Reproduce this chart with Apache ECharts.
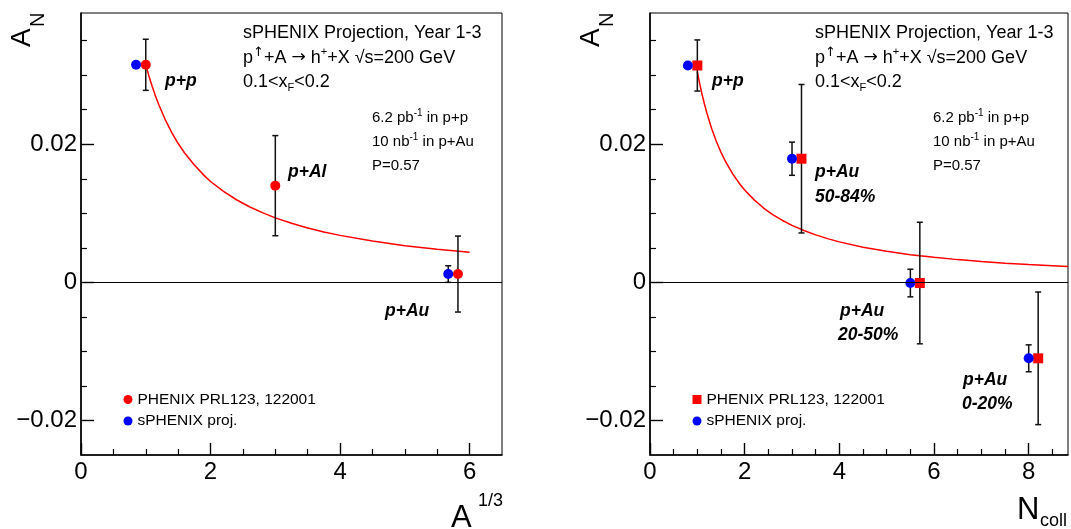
<!DOCTYPE html>
<html><head><meta charset="utf-8">
<script src="https://cdn.jsdelivr.net/npm/echarts@6/dist/echarts.min.js"></script>
<style>html,body{margin:0;padding:0;background:#fff}#c{width:1071px;height:529px}</style>
</head><body><div id="c"></div>
<script>
// ---------------- data ----------------
const seriesNames = ['PHENIX PRL123, 122001', 'sPHENIX proj.'];

// Left panel: x = A^(1/3)
const leftCategories = ['p+p', 'p+Al', 'p+Au'];
const leftPhenixX = [1.0, 3.0, 5.82];
const leftPhenixY = [0.0315, 0.0140, 0.0012];
const leftPhenixErr = [0.0037, 0.00725, 0.0055];
const leftSphenixX = [0.85, 5.67];
const leftSphenixY = [0.0315, 0.0012];
const leftSphenixErr = [0.0004, 0.0012];
const leftFitX = [1, 1.05, 1.1, 1.15, 1.2, 1.3, 1.4, 1.5, 1.6, 1.75, 1.9, 2, 2.2, 2.4, 2.6, 2.8, 3, 3.25, 3.5, 3.75, 4, 4.5, 5, 5.5, 6];
const leftFitY = [0.0315, 0.02985, 0.02835, 0.02699, 0.02575, 0.02357, 0.02171, 0.0201, 0.01873, 0.0170, 0.01549, 0.0146, 0.01317, 0.01196, 0.01095, 0.01009, 0.00934, 0.00855, 0.00788, 0.0073, 0.0068, 0.00597, 0.00531, 0.00478, 0.00434];

// Right panel: x = N_coll
const rightCategories = ['p+p', 'p+Au 50-84%', 'p+Au 20-50%', 'p+Au 0-20%'];
const rightPhenixX = [1.0, 3.2, 5.7, 8.2];
const rightPhenixY = [0.0314, 0.0179, -0.0001, -0.0110];
const rightPhenixErr = [0.0037, 0.01075, 0.0088, 0.0096];
const rightSphenixX = [0.8, 3.0, 5.5, 8.0];
const rightSphenixY = [0.0314, 0.0179, -0.0001, -0.0110];
const rightSphenixErr = [0.0004, 0.0024, 0.0020, 0.00195];
const rightFitX = [1, 1.05, 1.1, 1.15, 1.2, 1.3, 1.4, 1.5, 1.6, 1.75, 1.9, 2, 2.2, 2.4, 2.6, 2.8, 3, 3.25, 3.5, 3.75, 4, 4.5, 5, 5.5, 6, 6.5, 7, 7.5, 8, 8.5, 8.83];
const rightFitY = [0.0305, 0.02878, 0.0272, 0.02583, 0.02455, 0.02232, 0.02044, 0.01882, 0.01743, 0.01567, 0.01421, 0.01337, 0.01194, 0.01076, 0.00978, 0.00896, 0.00825, 0.0075, 0.00687, 0.00633, 0.00586, 0.00509, 0.00449, 0.00401, 0.00362, 0.00329, 0.00301, 0.00277, 0.00257, 0.00239, 0.00228];

// axis ticks
const yMajorTicks = [-0.02, 0, 0.02];
const yMinorTicks = [-0.015, -0.01, -0.005, 0.005, 0.01, 0.015, 0.025, 0.03, 0.035];
const leftXMajorTicks = [0, 2, 4, 6];
const leftXMinorTicks = [0.5, 1, 1.5, 2.5, 3, 3.5, 4.5, 5, 5.5];
const rightXMajorTicks = [0, 2, 4, 6, 8];
const rightXMinorTicks = [0.5, 1, 1.5, 2.5, 3, 3.5, 4.5, 5, 5.5, 6.5, 7, 7.5, 8.5];

// ---------------- chart ----------------
const FF = '"Liberation Sans", Arial, Helvetica, sans-serif';
const FA = '"DejaVu Sans", "Liberation Sans", sans-serif';
const chart = echarts.init(document.getElementById('c'), null, {renderer: 'canvas'});

const zip2 = (a, b) => a.map((v, i) => [v, b[i]]);
const zip3 = (a, b, c) => a.map((v, i) => [v, b[i], c[i]]);

function fmtY(v) {
  if (Math.abs(v) < 1e-9) return '0';
  return (v < 0 ? '\u2212' : '') + Math.abs(v).toFixed(2);
}

function renderErr(params, api) {
  const x = api.value(0), y = api.value(1), e = api.value(2);
  const t = api.coord([x, y + e]);
  const b = api.coord([x, y - e]);
  const cw = 3;
  const st = {stroke: '#111', lineWidth: 1.5};
  return {type: 'group', children: [
    {type: 'line', shape: {x1: t[0], y1: t[1], x2: b[0], y2: b[1]}, style: st},
    {type: 'line', shape: {x1: t[0] - cw, y1: t[1], x2: t[0] + cw, y2: t[1]}, style: st},
    {type: 'line', shape: {x1: b[0] - cw, y1: b[1], x2: b[0] + cw, y2: b[1]}, style: st}
  ]};
}

const grids = [
  {left: 81, top: 13, width: 421, height: 442, show: true, borderColor: '#000', borderWidth: 1, backgroundColor: 'transparent'},
  {left: 650, top: 13, width: 418, height: 442, show: true, borderColor: '#000', borderWidth: 1, backgroundColor: 'transparent'}
];

function xAxes(gi, max, majors, minors) {
  return [
    {gridIndex: gi, type: 'value', min: 0, max: max, position: 'bottom',
     axisLine: {show: true, onZero: false, lineStyle: {color: '#000', width: 1.6}},
     axisTick: {show: true, inside: true, length: 12, customValues: majors, lineStyle: {color: '#000', width: 1.4}},
     axisLabel: {show: true, customValues: majors, margin: 5, fontSize: 24, color: '#000', fontFamily: FF, formatter: v => String(v)},
     splitLine: {show: false}},
    {gridIndex: gi, type: 'value', min: 0, max: max, position: 'bottom',
     axisLine: {show: false, onZero: false},
     axisTick: {show: true, inside: true, length: 6, customValues: minors, lineStyle: {color: '#000', width: 1.2}},
     axisLabel: {show: false}, splitLine: {show: false}}
  ];
}
function yAxes(gi) {
  return [
    {gridIndex: gi, type: 'value', min: -0.025, max: 0.039, position: 'left',
     axisLine: {show: true, onZero: false, lineStyle: {color: '#000', width: 1.6}},
     axisTick: {show: true, inside: true, length: 13, customValues: yMajorTicks, lineStyle: {color: '#000', width: 1.4}},
     axisLabel: {show: true, customValues: yMajorTicks, margin: 4, fontSize: 24, color: '#000', fontFamily: FF, formatter: fmtY},
     splitLine: {show: false}},
    {gridIndex: gi, type: 'value', min: -0.025, max: 0.039, position: 'left', offset: 0,
     axisLine: {show: false, onZero: false},
     axisTick: {show: true, inside: true, length: 6, customValues: yMinorTicks, lineStyle: {color: '#000', width: 1.2}},
     axisLabel: {show: false}, splitLine: {show: false}}
  ];
}

function panelSeries(xi, yi, fitX, fitY, pX, pY, pE, sX, sY, sE, phenixSymbol, phenixSize) {
  return [
    {type: 'line', xAxisIndex: xi, yAxisIndex: yi, data: zip2(fitX, fitY), showSymbol: false, symbol: 'none',
     smooth: false, lineStyle: {color: '#ff0000', width: 1.5}, z: 1, silent: true,
     markLine: {silent: true, symbol: ['none', 'none'], label: {show: false},
       lineStyle: {color: '#000', width: 1, type: 'solid'}, data: [{yAxis: 0}], animation: false}},
    {type: 'custom', xAxisIndex: xi, yAxisIndex: yi, data: zip3(pX, pY, pE), renderItem: renderErr, encode: {x: 0, y: 1}, z: 2, clip: false, silent: true},
    {type: 'custom', xAxisIndex: xi, yAxisIndex: yi, data: zip3(sX, sY, sE), renderItem: renderErr, encode: {x: 0, y: 1}, z: 2, clip: false, silent: true},
    {type: 'scatter', name: seriesNames[0], xAxisIndex: xi, yAxisIndex: yi, data: zip2(pX, pY), symbol: phenixSymbol, symbolSize: phenixSize,
     itemStyle: {color: '#ff0000', opacity: 1}, z: 3},
    {type: 'scatter', name: seriesNames[1], xAxisIndex: xi, yAxisIndex: yi, data: zip2(sX, sY), symbol: 'circle', symbolSize: 10,
     itemStyle: {color: '#0000ff', opacity: 1}, z: 3}
  ];
}

// ---------- text helpers ----------
function richLine(x, y, text, size, supSize) {
  return {type: 'text', x: x, y: y, silent: true, style: {
    x: 0, y: 0, text: text, fill: '#000', align: 'left', verticalAlign: 'middle',
    textAlign: 'left', textVerticalAlign: 'middle',
    fontFamily: FF, fontSize: size,
    rich: {
      m: {fontFamily: FF, fontSize: size, lineHeight: Math.round(size * 1.25), fill: '#000'},
      a: {fontFamily: FA, fontSize: size * 0.95, lineHeight: Math.round(size * 1.25), fill: '#000'},
      ua: {fontFamily: FA, fontSize: supSize + 2, lineHeight: supSize + 2, verticalAlign: 'top', fill: '#000'},
      u: {fontFamily: FF, fontSize: supSize, lineHeight: supSize, verticalAlign: 'top', fill: '#000'},
      d: {fontFamily: FF, fontSize: supSize, lineHeight: supSize, verticalAlign: 'bottom', fill: '#000'}
    }
  }};
}
function plain(x, y, text, size, opts) {
  opts = opts || {};
  return {type: 'text', x: x, y: y, rotation: opts.rotation || 0, silent: true, style: {
    x: 0, y: 0, text: text, fill: '#000', align: opts.align || 'left', verticalAlign: 'middle',
    textAlign: opts.align || 'left', textVerticalAlign: 'middle',
    fontFamily: FF, fontSize: size, fontWeight: opts.bold ? 'bold' : 'normal', fontStyle: opts.italic ? 'italic' : 'normal'
  }};
}
function bi(x, y, t) { return plain(x, y, t, 17.5, {bold: true, italic: true}); }

function infoBlock(x0, xs) {
  return [
    richLine(x0, 33, '{m|sPHENIX Projection, Year 1-3}', 18, 11),
    richLine(x0, 58, '{m|p}{ua|\u2191}{m|+A }{a|\u2192}{m| h}{u|+}{m|+X \u221As=200 GeV}', 18, 11),
    richLine(x0, 82, '{m|0.1<x}{d|F}{m|<0.2}', 18, 11),
    richLine(xs, 118, '{m|6.2 pb}{u|-1}{m| in p+p}', 15, 10),
    richLine(xs, 142, '{m|10 nb}{u|-1}{m| in p+Au}', 15, 10),
    richLine(xs, 165.5, '{m|P=0.57}', 15, 10)
  ];
}

const graphics = [].concat(
  infoBlock(243, 372),
  infoBlock(815, 933),
  [
    // left labels
    bi(165, 81, 'p+p'), bi(288, 172, 'p+Al'), bi(385, 311, 'p+Au'),
    // right labels
    bi(712, 81, 'p+p'), bi(815, 172, 'p+Au'), bi(815, 197, '50-84%'),
    bi(840, 311, 'p+Au'), bi(838, 335, '20-50%'),
    bi(963, 380, 'p+Au'), bi(962, 404, '0-20%'),
    // y titles (rotated)
    plain(22.5, 47, 'A', 28, {rotation: Math.PI / 2}),
    plain(38, 27, 'N', 20, {rotation: Math.PI / 2}),
    plain(591.5, 47, 'A', 28, {rotation: Math.PI / 2}),
    plain(607.5, 27, 'N', 20, {rotation: Math.PI / 2}),
    // x titles
    plain(451, 518, 'A', 31), plain(478, 501, '1/3', 18),
    plain(1017, 510, 'N', 31), plain(1040, 521, 'coll', 18)
  ]
);

const legendText = {fontSize: 15.5, fontFamily: FF, color: '#000', padding: [0, 0, 0, 0], lineHeight: 16};
const option = {
  animation: false,
  backgroundColor: '#fff',
  grid: grids,
  xAxis: [].concat(xAxes(0, 6.5, leftXMajorTicks, leftXMinorTicks), xAxes(1, 8.83, rightXMajorTicks, rightXMinorTicks)),
  yAxis: [].concat(yAxes(0), yAxes(1)),
  legend: [
    {left: 118.5, top: 386.5, orient: 'vertical', itemWidth: 9, itemHeight: 9, itemGap: 5.5, selectedMode: false,
     data: [{name: seriesNames[0], icon: 'circle'}, {name: seriesNames[1], icon: 'circle'}], textStyle: legendText},
    {left: 687.5, top: 386.5, orient: 'vertical', itemWidth: 9, itemHeight: 9, itemGap: 5.5, selectedMode: false,
     data: [{name: seriesNames[0], icon: 'rect'}, {name: seriesNames[1], icon: 'circle'}], textStyle: legendText}
  ],
  series: [].concat(
    panelSeries(0, 0, leftFitX, leftFitY, leftPhenixX, leftPhenixY, leftPhenixErr, leftSphenixX, leftSphenixY, leftSphenixErr, 'circle', 10),
    panelSeries(2, 2, rightFitX, rightFitY, rightPhenixX, rightPhenixY, rightPhenixErr, rightSphenixX, rightSphenixY, rightSphenixErr, 'rect', 10)
  ),
  graphic: graphics
};
chart.setOption(option);
</script></body></html>
